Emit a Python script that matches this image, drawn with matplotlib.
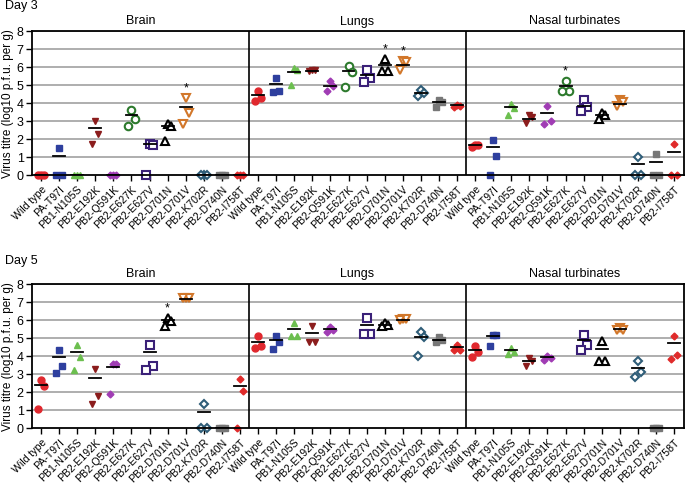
import numpy as np
import matplotlib
matplotlib.use("Agg")
import matplotlib.pyplot as plt

plt.rcParams['font.family'] = ['Liberation Sans', 'DejaVu Sans']

nan = np.nan
strains = ["Wild type", "PA-T97I", "PB1-N105S", "PB2-E192K", "PB2-Q591K",
           "PB2-E627K", "PB2-E627V", "PB2-D701N", "PB2-D701V", "PB2-K702R",
           "PB2-D740N", "PB2-I758T"]
tissues = ["Brain", "Lungs", "Nasal turbinates"]

# ---- Day 3 ----
d3_brain = [[0, 0, 0], [1.5, 0, 0], [0, 0, 0], [3.0, 2.3, 1.7], [0, 0, 0],
            [3.62, 3.09, 2.72], [1.71, 1.65, 0], [2.81, 2.70, 1.89],
            [4.26, 3.44, 2.83], [0, 0, 0], [0, 0, 0], [0, 0, 0]]
d3_brain_mean = [0, 1.05, 0, 2.63, 0, 3.31, 1.72, 2.7, 3.8, 0, 0, 0]
d3_lungs = [[4.67, 4.28, 4.10], [5.40, 4.69, 4.60], [5.96, 5.81, 5.00],
            [5.85, 5.81, 5.77], [5.24, 4.93, 4.65], [6.07, 5.74, 4.89],
            [5.83, 5.40, 5.15], [6.43, 5.79, 5.79], [6.34, 6.30, 5.83],
            [4.72, 4.54, 4.41], [4.17, 4.04, 3.77], [3.90, 3.86, 3.77]]
d3_lungs_mean = [4.43, 5.04, 5.74, 5.79, 4.96, 5.77, 5.53, 6.12, 6.12, 4.54, 4.03, 3.9]
d3_nasal = [[1.69, 1.65, 1.56], [1.95, 1.07, 0], [3.97, 3.75, 3.36],
            [3.31, 3.20, 2.90], [3.84, 3.00, 2.85], [5.24, 4.69, 4.69],
            [4.17, 3.77, 3.58], [3.47, 3.31, 3.09], [4.17, 4.04, 3.82],
            [0.99, 0, 0], [1.16, 0, 0], [1.75, 0, 0]]
d3_nasal_mean = [1.65, 1.53, 3.77, 3.13, 3.44, 4.93, 3.84, 3.31, 3.97, 0.61, 0.74, 1.27]
d3_stars = {"Brain": ["PB2-D701V"], "Lungs": ["PB2-D701N", "PB2-D701V"],
            "Nasal turbinates": ["PB2-E627K"]}

# ---- Day 5 ----
d5_brain = [[2.65, 2.31, 1.06], [4.35, 3.44, 3.07], [4.59, 3.93, 3.22],
            [3.30, 1.76, 1.35], [3.56, 3.56, 1.91], [nan, nan, nan],
            [4.63, 3.46, 3.24], [6.10, 5.93, 5.69], [7.24, 7.22, 7.20],
            [1.35, 0, 0], [0, 0, 0], [2.72, 2.06, 0]]
d5_brain_mean = [2.37, 3.94, 4.22, 2.8, 3.41, nan, 4.2, 5.98, 7.19, 0.89, 0, 2.33]
d5_lungs = [[5.13, 4.57, 4.44], [5.13, 4.78, 4.41], [5.83, 5.09, 5.09],
            [5.65, 4.76, 4.76], [5.61, 5.46, 5.31], [nan, nan, nan],
            [6.13, 5.22, 5.22], [5.83, 5.74, 5.65], [6.06, 6.04, 6.02],
            [5.31, 5.04, 3.98], [5.04, 4.91, 4.76], [4.63, 4.31, 4.31]]
d5_lungs_mean = [4.78, 4.87, 5.5, 5.26, 5.48, nan, 5.74, 5.7, 6.02, 5.06, 4.91, 4.48]
d5_nasal = [[4.57, 4.20, 3.93], [5.15, 5.15, 4.57], [4.44, 4.20, 4.11],
            [3.89, 3.74, 3.43], [3.98, 3.89, 3.80], [nan, nan, nan],
            [5.19, 4.63, 4.31], [4.85, 3.70, 3.70], [5.56, 5.46, 5.46],
            [3.70, 3.11, 2.81], [0, 0, 0], [5.13, 4.07, 3.83]]
d5_nasal_mean = [4.31, 5.09, 4.31, 3.7, 3.93, nan, 4.87, 4.41, 5.52, 3.33, 0, 4.72]
d5_stars = {"Brain": ["PB2-D701N"], "Lungs": [], "Nasal turbinates": []}

yticks = [0, 1, 2, 3, 4, 5, 6, 7, 8]

# ---- styles ----
styles = {
    "Wild type": dict(marker='o', color='#e0282e', filled=True, ms=5.0),
    "PA-T97I": dict(marker='s', color='#2e3f9e', filled=True, ms=5.0),
    "PB1-N105S": dict(marker='^', color='#6cbf4f', filled=True, ms=5.0),
    "PB2-E192K": dict(marker='v', color='#8b1c1c', filled=True, ms=5.0),
    "PB2-Q591K": dict(marker='D', color='#a03cb4', filled=True, ms=3.5),
    "PB2-E627K": dict(marker='o', color='#2d7a2d', filled=False, ms=5.4),
    "PB2-E627V": dict(marker='s', color='#3a2078', filled=False, ms=5.3),
    "PB2-D701N": dict(marker='^', color='#000000', filled=False, ms=5.3),
    "PB2-D701V": dict(marker='v', color='#d2772a', filled=False, ms=5.3),
    "PB2-K702R": dict(marker='D', color='#2f5d78', filled=False, ms=4.2),
    "PB2-D740N": dict(marker='s', color='#777777', filled=True, ms=5.0),
    "PB2-I758T": dict(marker='D', color='#e02a2a', filled=True, ms=3.5),
}
rank_offsets = [0.0, 0.17, -0.17]

W, H = 685, 485
fig = plt.figure(figsize=(W / 100, H / 100), dpi=100)

def px_axes(top_px, bottom_px, left_px=32, right_px=684):
    return fig.add_axes([left_px / W, 1 - bottom_px / H,
                         (right_px - left_px) / W, (bottom_px - top_px) / H])

def draw_day(ax, groups, means, stars, day_label, day_y_px):
    ncat = len(strains)
    for gi, (vals, mvals) in enumerate(zip(groups, means)):
        for ci, s in enumerate(strains):
            x0 = gi * ncat + ci
            st = styles[s]
            v = np.array(vals[ci], dtype=float)
            if np.all(np.isnan(v)):
                continue
            order = np.argsort(-v, kind='stable')
            for rank, idx in enumerate(order):
                x = x0 + rank_offsets[rank]
                if st['filled']:
                    ax.plot(x, v[idx], marker=st['marker'], ms=st['ms'], color=st['color'],
                            mec=st['color'], ls='none', zorder=4, clip_on=False)
                else:
                    ax.plot(x, v[idx], marker=st['marker'], ms=st['ms'], mfc='white',
                            mec=st['color'], mew=1.5, ls='none', zorder=4, clip_on=False)
            m = mvals[ci]
            if not np.isnan(m):
                ax.plot([x0 - 0.33, x0 + 0.33], [m, m], color='black', lw=1.3, zorder=5)
            if s in stars[tissues[gi]]:
                ax.text(x0, np.nanmax(v) + 0.25, '*', ha='center', va='bottom',
                        fontsize=9, zorder=6)
        ax.text(gi * ncat + (ncat - 1) / 2, 8.25, tissues[gi], ha='center', va='bottom',
                fontsize=9)
    for b in [ncat - 0.5, 2 * ncat - 0.5]:
        ax.axvline(b, color='black', lw=1.2, zorder=3)
    ax.set_xlim(-0.5, 3 * ncat - 0.45)
    ax.set_ylim(0, 8)
    ax.set_yticks(yticks)
    ax.set_yticklabels([str(t) for t in yticks], fontsize=9)
    for t in yticks[1:]:
        ax.axhline(t, color='#a8a8a8', lw=1.3, zorder=1)
    xt = np.arange(3 * ncat)
    ax.set_xticks(xt)
    ax.set_xticklabels(strains * 3, rotation=45, ha='right', rotation_mode='anchor',
                       fontsize=7.6)
    ax.tick_params(axis='x', direction='out', length=4, width=1, pad=2)
    ax.tick_params(axis='y', direction='out', length=4, width=1, pad=2)
    for sp in ax.spines.values():
        sp.set_linewidth(1.3)
        sp.set_color('black')
        sp.set_zorder(6)
    ax.set_ylabel('Virus titre (log10 p.f.u. per g)', fontsize=8.5, labelpad=2)
    fig.text(5 / W, 1 - day_y_px / H, day_label, ha='left', va='center', fontsize=9)

ax1 = px_axes(32, 176)
draw_day(ax1, [d3_brain, d3_lungs, d3_nasal],
         [d3_brain_mean, d3_lungs_mean, d3_nasal_mean], d3_stars, 'Day 3', 6)
ax2 = px_axes(285, 429)
draw_day(ax2, [d5_brain, d5_lungs, d5_nasal],
         [d5_brain_mean, d5_lungs_mean, d5_nasal_mean], d5_stars, 'Day 5', 261)

fig.savefig('out.png', dpi=100)
